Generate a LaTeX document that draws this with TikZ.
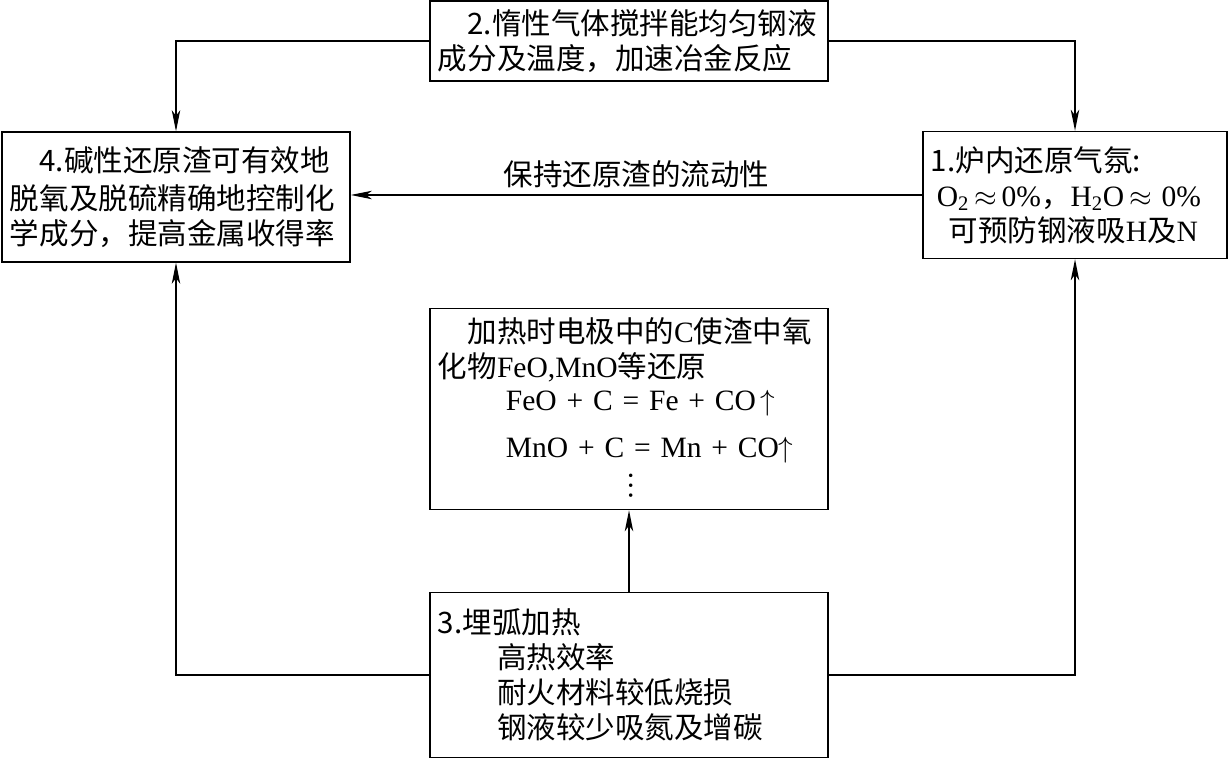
\documentclass[tikz,border=0pt]{standalone}
\usepackage{fontspec}
\setmainfont{Noto Sans CJK SC}
\newfontfamily\lat{Liberation Serif}
\usetikzlibrary{arrows.meta,positioning}

\begin{document}
\begin{tikzpicture}[
  x=0.025cm, y=-0.025cm,
  >={Stealth[length=15pt,width=6pt,inset=4pt]},
  every node/.style={font=\fontsize{21}{25}\selectfont},
  box/.style={draw, line width=1pt, inner xsep=0.2cm, inner ysep=0pt, align=left},
  link/.style={->, line width=1pt}
]
  \useasboundingbox (0,0) rectangle (1228,760);

  % the five boxes
  \node[box, text width=9.55cm, minimum height=2cm] (inert) at (629,41)
    {\hspace*{1em}2.惰性气体搅拌能均匀钢液\\成分及温度，加速冶金反应};
  \node[box, text width=8.3cm, minimum height=3.25cm] (slag) at (176,197)
    {\hspace*{1em}4.碱性还原渣可有效地\\[2pt]脱氧及脱硫精确地控制化\\学成分，提高金属收得率};
  \node[box, text width=7.2cm, minimum height=3.175cm] (atmos) at (1075,195)
    {1.炉内还原气氛:\\
     \hspace*{0.2em}{\lat O\textsubscript{2}}$\,\approx$\,{\lat 0\%}，{\lat H\textsubscript{2}O}$\,\approx$\,\,{\lat 0\%}\\
     \hspace*{0.6em}可预防钢液吸{\lat H}及{\lat N}};
  \node[box, text width=9.55cm, minimum height=5.025cm] (reduce) at (629,409)
    {\hspace*{1em}加热时电极中的{\lat C}使渣中氧\\
     化物{\lat FeO,MnO}等还原\\[-1pt]
     \hspace*{2.3em}{\lat FeO + C = Fe + CO}\,$\uparrow$\\[8pt]
     \hspace*{2.3em}{\lat MnO + C = Mn + CO}$\uparrow$\\[4pt]
     \hspace*{6.5em}\raisebox{-2pt}{\rotatebox{90}{\lat …}}};
  \node[box, text width=9.55cm, minimum height=4.125cm] (arc) at (629,675)
    {3.埋弧加热\\
     \hspace*{2em}高热效率\\
     \hspace*{2em}耐火材料较低烧损\\
     \hspace*{2em}钢液较少吸氮及增碳};

  % connectors
  \draw[link] (inert.west) -| (slag.north);
  \draw[link] (inert.east) -| (atmos.north);
  \draw[link] (atmos.west) -- node[above=1pt] (fluid) {保持还原渣的流动性}
    (atmos.west -| slag.east);
  \draw[link] (arc.west) -| (slag.south);
  \draw[link] (arc.east) -| (atmos.south);
  \draw[link] (arc.north) -- (reduce.south);
\end{tikzpicture}
\end{document}
